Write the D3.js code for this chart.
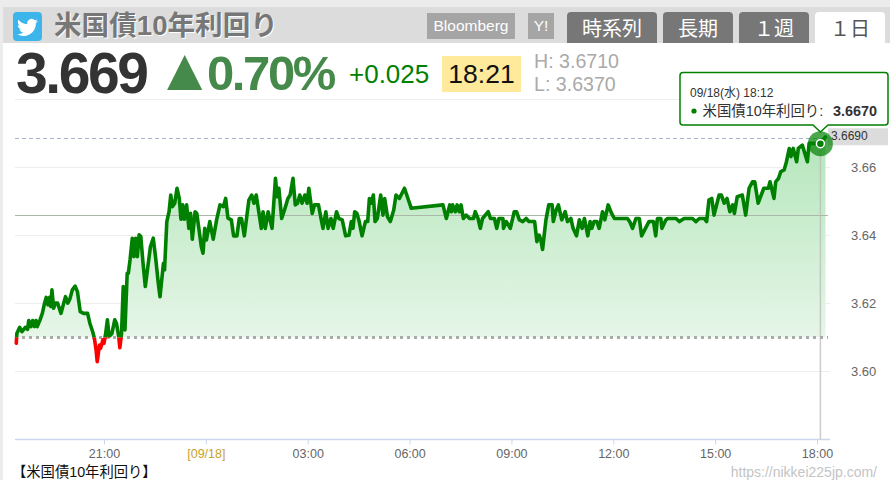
<!DOCTYPE html>
<html lang="ja">
<head>
<meta charset="utf-8">
<script src="https://cdn.jsdelivr.net/npm/d3@7"></script>
<style>
  html, body { margin: 0; padding: 0; background: #fff; overflow: hidden; }
  svg { display: block; }
  text { font-family: "Liberation Sans", "Noto Sans CJK JP", sans-serif; }
  .title { text-shadow: 1px 1px 0 #fff; }
</style>
</head>
<body>
<svg id="graph" width="890" height="480"></svg>
<script>
// minutes since 18:00 on 09/17
const minutes = [
  25, 26, 31, 35, 41, 45, 47, 51, 54, 57, 60, 62, 67, 71, 75, 78, 81, 84, 86, 88,
  91, 94, 98, 101, 104, 108, 112, 116, 120, 124, 129, 133, 138, 144, 151, 155, 160, 163, 166, 168,
  172, 174, 178, 180, 183, 186, 189, 194, 199, 202, 206, 208, 211, 214, 217, 221, 223, 226, 230, 233,
  236, 239, 242, 245, 249, 253, 256, 262, 267, 271, 276, 279, 285, 287, 291, 295, 298, 301, 305, 309,
  313, 316, 319, 322, 326, 330, 333, 336, 341, 344, 348, 352, 355, 358, 361, 367, 373, 379, 385, 391,
  395, 399, 405, 409, 415, 419, 423, 428, 436, 441, 445, 449, 458, 461, 465, 470, 477, 479, 483, 486,
  489, 494, 499, 505, 509, 514, 518, 522, 526, 530, 535, 539, 542, 548, 552, 559, 564, 567, 572, 576,
  581, 585, 591, 595, 601, 607, 613, 617, 620, 623, 627, 631, 636, 642, 646, 649, 652, 656, 659, 663,
  669, 673, 676, 681, 686, 692, 696, 702, 711, 723, 779, 785, 791, 794, 796, 801, 804, 808, 811, 815,
  820, 826, 833, 836, 841, 845, 849, 859, 863, 870, 874, 878, 885, 886, 891, 898, 905, 909, 914, 920,
  926, 931, 941, 945, 949, 952, 955, 961, 966, 972, 974, 979, 983, 989, 995, 999, 1005, 1009, 1015, 1020,
  1025, 1029, 1035, 1039, 1042, 1046, 1051, 1055, 1061, 1065, 1071, 1077, 1082, 1105, 1109, 1114, 1120, 1126, 1130, 1143,
  1151, 1155, 1158, 1164, 1166, 1173, 1176, 1191, 1197, 1205, 1220, 1226, 1232, 1241, 1245, 1249, 1254, 1258, 1267, 1271,
  1276, 1281, 1286, 1291, 1294, 1299, 1308, 1314, 1320, 1326, 1330, 1336, 1346, 1354, 1357, 1364, 1367, 1372, 1376, 1382,
  1386, 1391, 1394, 1398, 1404, 1407, 1414, 1423, 1426, 1438, 1446, 1455,
];
const yields = [
  3.6083, 3.6112, 3.613, 3.6117, 3.613, 3.6124, 3.615, 3.6132, 3.615, 3.6132, 3.615, 3.6132, 3.6152, 3.6171, 3.6201, 3.6218, 3.6196, 3.6218, 3.6191, 3.624,
  3.6186, 3.6201, 3.6201, 3.6186, 3.6171, 3.6196, 3.622, 3.6201, 3.6215, 3.624, 3.6251, 3.6235, 3.6176, 3.6171, 3.6171, 3.6142, 3.6117, 3.6098, 3.6063, 3.6029,
  3.6078, 3.6068, 3.6093, 3.6083, 3.6112, 3.6152, 3.6103, 3.6112, 3.6152, 3.6142, 3.6103, 3.607, 3.6112, 3.625, 3.6122, 3.6289, 3.6289, 3.6328, 3.6392, 3.6338,
  3.6392, 3.6338, 3.6402, 3.6397, 3.6318, 3.625, 3.6289, 3.6367, 3.6392, 3.6338, 3.6259, 3.622, 3.6318, 3.6299, 3.6441, 3.647, 3.6519, 3.6485, 3.6495, 3.6539,
  3.6509, 3.6448, 3.649, 3.6448, 3.649, 3.6421, 3.6465, 3.6389, 3.647, 3.6465, 3.6416, 3.6367, 3.6348, 3.6421, 3.6387, 3.6441, 3.6389, 3.6446, 3.649, 3.6485,
  3.6509, 3.6451, 3.6446, 3.6399, 3.6399, 3.645, 3.645, 3.6399, 3.6504, 3.6519, 3.6495, 3.6519, 3.6421, 3.647, 3.6421, 3.647, 3.6421, 3.647, 3.6568, 3.6514,
  3.6539, 3.645, 3.6475, 3.6509, 3.6519, 3.6568, 3.649, 3.6495, 3.6519, 3.6495, 3.6519, 3.6495, 3.6539, 3.6465, 3.649, 3.649, 3.6446, 3.6421, 3.647, 3.6421,
  3.645, 3.6421, 3.647, 3.645, 3.6446, 3.6399, 3.6401, 3.6441, 3.6421, 3.647, 3.6465, 3.6441, 3.6399, 3.6441, 3.6441, 3.6509, 3.6495, 3.6519, 3.6441, 3.645,
  3.6519, 3.646, 3.6509, 3.6455, 3.6441, 3.6475, 3.6519, 3.6509, 3.6539, 3.648, 3.649, 3.645, 3.649, 3.647, 3.649, 3.647, 3.649, 3.647, 3.649, 3.645,
  3.646, 3.645, 3.645, 3.647, 3.645, 3.6421, 3.645, 3.647, 3.645, 3.645, 3.6421, 3.645, 3.645, 3.6421, 3.6441, 3.6421, 3.647, 3.647, 3.6446, 3.6441,
  3.645, 3.6441, 3.6441, 3.6382, 3.6401, 3.6387, 3.6359, 3.6446, 3.649, 3.649, 3.6441, 3.6475, 3.649, 3.6446, 3.647, 3.6441, 3.645, 3.6421, 3.6399, 3.6446,
  3.6421, 3.645, 3.6399, 3.6441, 3.6421, 3.6441, 3.6441, 3.6421, 3.647, 3.6446, 3.649, 3.6465, 3.645, 3.645, 3.6441, 3.6421, 3.645, 3.645, 3.6399, 3.6441,
  3.6441, 3.6399, 3.645, 3.645, 3.6421, 3.6446, 3.645, 3.645, 3.6441, 3.645, 3.645, 3.6441, 3.645, 3.645, 3.6441, 3.6504, 3.6509, 3.646, 3.6519, 3.6519,
  3.6495, 3.6509, 3.647, 3.649, 3.6465, 3.6514, 3.6519, 3.646, 3.6539, 3.6558, 3.6558, 3.6495, 3.6539, 3.6539, 3.6558, 3.6509, 3.6558, 3.6568, 3.6588, 3.6593,
  3.6617, 3.6656, 3.6632, 3.6656, 3.6617, 3.6656, 3.6666, 3.6617, 3.6671, 3.6671, 3.667, 3.669,
];

const y_ticks = [3.6, 3.62, 3.64, 3.66];
const grid_values = [3.6, 3.62, 3.64, 3.66, 3.68];
const x_ticks = [180, 360, 540, 720, 900, 1080, 1260, 1440];
const x_tick_labels = ["21:00", "[09/18]", "03:00", "06:00", "09:00", "12:00", "15:00", "18:00"];

const open_yield = 3.61;
const ref_yield = 3.646;
const last_yield = 3.6686;
const hover_minute = 1446;
const hover_yield = 3.667;

const tabs = ["時系列", "長期", "１週", "１日"];
const tab_lefts = [567, 663, 739, 815];
const tab_widths = [90, 70, 70, 70];

const green = "#008000";
const bird_path =
  "M23.953 4.57a10 10 0 01-2.825.775 4.958 4.958 0 002.163-2.723c-.951.555-2.005.959-3.127 1.184a4.92 4.92 0 00-8.384 4.482C7.69 8.095 4.067 6.13 1.64 3.162a4.822 4.822 0 00-.666 2.475c0 1.71.87 3.213 2.188 4.096a4.904 4.904 0 01-2.228-.616v.06a4.923 4.923 0 003.946 4.827 4.996 4.996 0 01-2.212.085 4.936 4.936 0 004.604 3.417 9.867 9.867 0 01-6.102 2.105c-.39 0-.779-.023-1.17-.067a13.995 13.995 0 007.557 2.209c9.053 0 13.998-7.496 13.998-13.985 0-.21 0-.42-.015-.63A9.935 9.935 0 0024 4.59z";

const svg = d3.select("#graph");
const points = minutes.map((m, i) => ({ m: m, v: yields[i] }));

// 21:00 sits at x=104 and three hours take 102px
const x = d3.scaleLinear().domain([180, 1440]).range([104, 817]);
const y = d3.scaleLinear().domain([3.58, 3.68]).range([439.5, 99.5]);

const plot_left = 15;
const plot_right = 830;
const base_y = y(open_yield);

function crisp(v) {
  return Math.round(v - 0.5) + 0.5;
}

function put_text(parent, str, px, py, size, color, weight, anchor) {
  return parent
    .append("text")
    .attr("x", px)
    .attr("y", py)
    .attr("font-size", size)
    .attr("fill", color)
    .attr("font-weight", weight || "normal")
    .attr("text-anchor", anchor || "start")
    .text(str);
}

// page frame and header
svg.append("rect").attr("width", 890).attr("height", 480).attr("fill", "#fff");
svg.append("rect").attr("width", 890).attr("height", 7).attr("fill", "#ececec");
svg.append("rect").attr("width", 3).attr("height", 480).attr("fill", "#ececec");
svg.append("rect").attr("x", 3).attr("y", 7).attr("width", 887).attr("height", 36).attr("fill", "#dcdcdc");

svg.append("rect").attr("x", 13).attr("y", 12).attr("width", 29).attr("height", 29).attr("rx", 4).attr("fill", "#3db4ea");
svg.append("path").attr("d", bird_path).attr("fill", "#fff").attr("transform", "translate(17,17) scale(0.875)");

put_text(svg, "米国債10年利回り", 54, 35, 27.6, "#777", "bold").attr("class", "title");

svg.append("rect").attr("x", 427).attr("y", 13).attr("width", 88).attr("height", 26).attr("fill", "#a5a5a5");
put_text(svg, "Bloomberg", 471, 31, 15.5, "#fff", "normal", "middle");
svg.append("rect").attr("x", 528).attr("y", 13).attr("width", 26).attr("height", 26).attr("fill", "#a5a5a5");
put_text(svg, "Y!", 541, 31, 15.5, "#fff", "normal", "middle");

tabs.forEach((t, i) => {
  const active = i === tabs.length - 1;
  const l = tab_lefts[i];
  const w = tab_widths[i];
  svg
    .append("path")
    .attr("d", `M${l},43V16a4,4 0 0 1 4,-4H${l + w - 4}a4,4 0 0 1 4,4V43Z`)
    .attr("fill", active ? "#fff" : "#777");
  put_text(svg, t, l + w / 2, 36, 20, active ? "#555" : "#fff", "normal", "middle");
});

// quote row
put_text(svg, "3.669", 16, 93, 57, "#333", "bold").attr("letter-spacing", -2.4);
const change_text = svg
  .append("text")
  .attr("y", 90)
  .attr("fill", "#458a4b")
  .attr("font-weight", "bold");
change_text.append("tspan").attr("x", 155).attr("font-size", 60).text("▲");
change_text.append("tspan").attr("x", 207).attr("font-size", 49).attr("letter-spacing", -2.4).text("0.70%");
put_text(svg, "+0.025", 349, 83, 26, green);
svg.append("rect").attr("x", 442).attr("y", 56).attr("width", 79).attr("height", 36).attr("fill", "#ffe99b");
put_text(svg, "18:21", 481.5, 83, 26.5, "#111", "normal", "middle");
put_text(svg, "H: 3.6710", 534, 68, 19.6, "#aaa");
put_text(svg, "L:  3.6370", 534, 91, 19.6, "#aaa");

// grid and axes
svg
  .append("g")
  .attr("stroke", "#eee")
  .selectAll("line")
  .data(grid_values)
  .join("line")
  .attr("x1", plot_left)
  .attr("x2", plot_right)
  .attr("y1", (d) => y(d))
  .attr("y2", (d) => y(d));

const x_axis = d3
  .axisBottom(x)
  .tickValues(x_ticks)
  .tickSizeOuter(0)
  .tickSize(5)
  .tickPadding(5)
  .tickFormat((d, i) => x_tick_labels[i]);
const x_group = svg.append("g").attr("transform", "translate(0,439.5)").call(x_axis);
x_group.select(".domain").remove();
x_group
  .append("line")
  .attr("x1", plot_left)
  .attr("x2", plot_right)
  .attr("stroke", "#ccd6eb")
  .attr("stroke-width", 1.5);
x_group.selectAll(".tick line").attr("stroke", "#ccd6eb");
x_group
  .selectAll(".tick text")
  .attr("font-size", 12.5)
  .attr("font-family", null)
  .attr("fill", (d, i) => (i === 1 ? "#c9a227" : "#666"));

const y_axis = d3.axisRight(y).tickValues(y_ticks).tickSize(0).tickPadding(0).tickFormat(d3.format(".2f"));
const y_group = svg.append("g").attr("transform", "translate(851,0)").call(y_axis);
y_group.select(".domain").remove();
y_group.selectAll(".tick text").attr("font-size", 13).attr("fill", "#666");

// area and line
const defs = svg.append("defs");
const gradient = defs
  .append("linearGradient")
  .attr("id", "area-fill")
  .attr("gradientUnits", "userSpaceOnUse")
  .attr("x1", 0)
  .attr("x2", 0)
  .attr("y1", y(last_yield))
  .attr("y2", base_y);
gradient.append("stop").attr("offset", 0).attr("stop-color", "#b5e6bb");
gradient.append("stop").attr("offset", 1).attr("stop-color", "#e6f6e8");

defs
  .append("clipPath")
  .attr("id", "above-open")
  .append("rect")
  .attr("x", 0)
  .attr("y", 0)
  .attr("width", 890)
  .attr("height", base_y);
defs
  .append("clipPath")
  .attr("id", "below-open")
  .append("rect")
  .attr("x", 0)
  .attr("y", base_y)
  .attr("width", 890)
  .attr("height", 480 - base_y);

const area = d3
  .area()
  .x((d) => x(d.m))
  .y0(base_y)
  .y1((d) => y(d.v));
const line = d3
  .line()
  .x((d) => x(d.m))
  .y((d) => y(d.v));

svg.append("path").datum(points).attr("d", area).attr("fill", "url(#area-fill)").attr("clip-path", "url(#above-open)");

svg
  .append("line")
  .attr("x1", plot_left)
  .attr("x2", 828)
  .attr("y1", crisp(y(ref_yield)))
  .attr("y2", crisp(y(ref_yield)))
  .attr("stroke", "#aab8aa");

svg
  .append("line")
  .attr("x1", plot_left)
  .attr("x2", 828)
  .attr("y1", crisp(y(last_yield)))
  .attr("y2", crisp(y(last_yield)))
  .attr("stroke", "#aab3d0")
  .attr("stroke-dasharray", "4,3");

svg
  .append("line")
  .attr("x1", x(hover_minute))
  .attr("x2", x(hover_minute))
  .attr("y1", y(hover_yield))
  .attr("y2", 439)
  .attr("stroke", "#bbb")
  .attr("stroke-opacity", 0.75)
  .attr("stroke-width", 1.5);

svg
  .append("line")
  .attr("x1", plot_left)
  .attr("x2", 828)
  .attr("y1", base_y)
  .attr("y2", base_y)
  .attr("stroke", "#aaa")
  .attr("stroke-width", 3)
  .attr("stroke-dasharray", "3,4");

const line_paths = [
  ["url(#above-open)", green],
  ["url(#below-open)", "#f00"],
];
line_paths.forEach((p) => {
  svg
    .append("path")
    .datum(points)
    .attr("d", line)
    .attr("fill", "none")
    .attr("stroke", p[1])
    .attr("stroke-width", 3.6)
    .attr("stroke-linejoin", "round")
    .attr("stroke-linecap", "round")
    .attr("clip-path", p[0]);
});

// last price tag
svg.append("rect").attr("x", 828).attr("y", y(last_yield) - 10).attr("width", 60).attr("height", 17).attr("fill", "#dcdcdc");
put_text(svg, "3.6690", 831, y(last_yield) + 1.5, 12, "#333");

// hover marker
const hover_x = x(hover_minute);
const hover_y = y(hover_yield);
svg.append("circle").attr("cx", hover_x).attr("cy", hover_y).attr("r", 12.5).attr("fill", green).attr("fill-opacity", 0.7);
svg
  .append("circle")
  .attr("cx", hover_x)
  .attr("cy", hover_y)
  .attr("r", 4)
  .attr("fill", green)
  .attr("stroke", "#fff")
  .attr("stroke-width", 1.5);

// tooltip
const tip = svg.append("g");
tip
  .append("path")
  .attr("d", `M683,72.5H885a3,3 0 0 1 3,3V122a3,3 0 0 1 -3,3H828L${hover_x},132L813,125H683a3,3 0 0 1 -3,-3V75.5a3,3 0 0 1 3,-3Z`)
  .attr("fill", "#fff")
  .attr("stroke", green)
  .attr("stroke-width", 1.5);
put_text(tip, "09/18(水) 18:12", 690, 97, 12, "#333");
tip.append("circle").attr("cx", 694).attr("cy", 111).attr("r", 2.6).attr("fill", green);
put_text(tip, "米国債10年利回り:", 702.5, 116, 14.4, "#333");
put_text(tip, "3.6670", 833, 116, 14.4, "#333", "bold");

// footer
put_text(svg, "【米国債10年利回り】", 12, 477, 14.3, "#111");
put_text(svg, "https://nikkei225jp.com/", 877, 476.5, 14, "#c4c4c4", "normal", "end");
</script>
</body>
</html>
